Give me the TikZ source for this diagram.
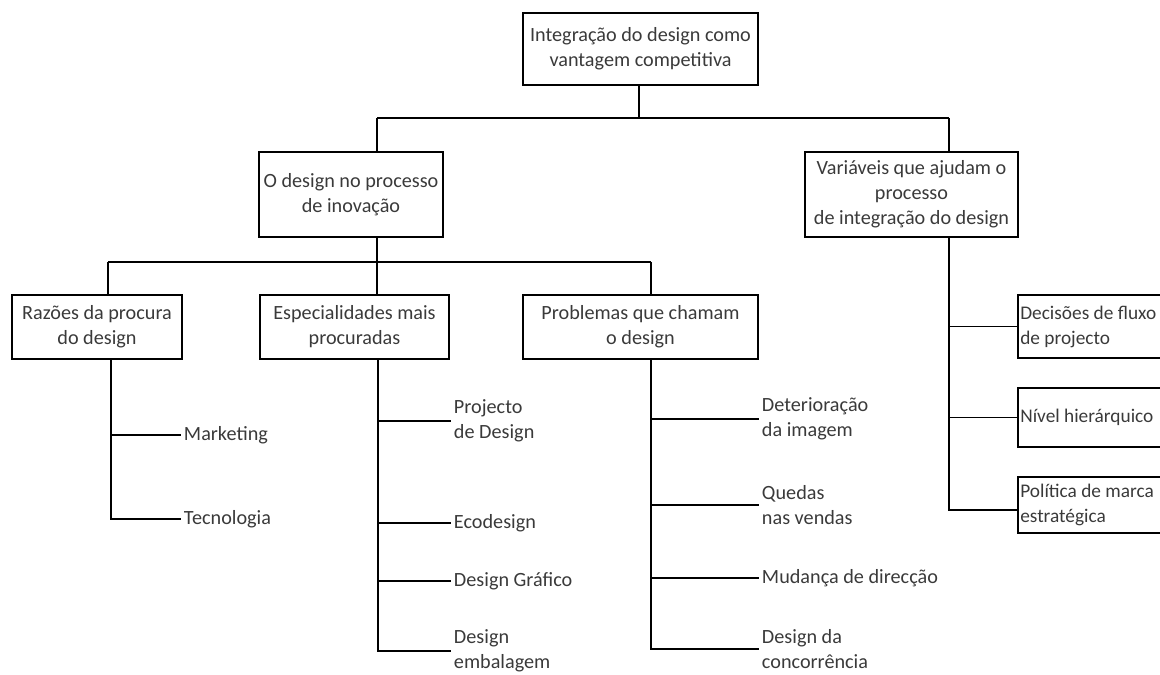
\documentclass[tikz,border=0pt]{standalone}
\usepackage{fontspec}
\setmainfont{Carlito}
\usepackage{xcolor}
\usepackage{tikz}
\usetikzlibrary{positioning}
\definecolor{txtgray}{HTML}{3A3A3A}
\tikzstyle{box} = [rectangle, 
draw=black, 
line width=0.9pt, 
text=txtgray, 
align=center, 
inner sep=0pt, 
font=\fontsize{11.5}{14.2}\selectfont]
\tikzstyle{sidebox} = [box, 
anchor=west, 
align=flush left, 
inner xsep=0.05cm, 
text width=3.8cm, 
font=\fontsize{11}{14.2}\selectfont]
\tikzstyle{leaf} = [text=txtgray, 
align=left, 
anchor=west, 
inner sep=1.5pt, 
font=\fontsize{11.5}{14.2}\selectfont]
\tikzstyle{branch} = [line width=0.9pt]

\begin{document}
\begin{tikzpicture}[x=0.02cm, y=-0.02cm]
\path[use as bounding box, clip] (0,0) rectangle (1160,675);

% boxes
\node (top) [box, minimum width=4.7cm, minimum height=1.44cm] at (640.5,49) {Integração do design como\\vantagem competitiva};
\node (inov) [box, minimum width=3.68cm, minimum height=1.7cm] at (351,194.5) {O design no processo\\de inovação};
\node (vars) [box, minimum width=4.26cm, minimum height=1.7cm] at (911.5,194.5) {Variáveis que ajudam o\\processo\\de integração do design};
\node (razoes) [box, minimum width=3.4cm, minimum height=1.28cm] at (97,327) {Razões da procura\\do design};
\node (espec) [box, minimum width=3.78cm, minimum height=1.28cm] at (354.5,327) {Especialidades mais\\procuradas};
\node (probl) [box, minimum width=4.7cm, minimum height=1.28cm] at (640.5,327) {Problemas que chamam\\o design};
\node (decis) [sidebox, minimum height=1.26cm] at (1017,326.5) {Decisões de fluxo\\de projecto};
\node (nivel) [sidebox, minimum height=1.18cm] at (1017,417.5) {Nível hierárquico};
\node (polit) [sidebox, minimum height=1.12cm] at (1017,505) {Política de marca\\estratégica};

% leaves
\node (mkt) [leaf] at (181,435) {Marketing};
\node (tec) [leaf] at (181,519) {Tecnologia};
\node (proj) [leaf] at (451,421) {Projecto\\de Design};
\node (eco) [leaf] at (451,523) {Ecodesign};
\node (graf) [leaf] at (451,581) {Design Gráfico};
\node (emb) [leaf] at (451,651) {Design\\embalagem};
\node (deter) [leaf] at (759,419) {Deterioração\\da imagem};
\node (quedas) [leaf] at (759,505) {Quedas\\nas vendas};
\node (mud) [leaf] at (759,578) {Mudança de direcção};
\node (conc) [leaf] at (759,649) {Design da\\concorrência};

% junctions
\coordinate (jtop) at (639,118);
\coordinate (jtl) at (377,118);
\coordinate (jtr) at (949,118);
\coordinate (jml) at (108,262);
\coordinate (jmm) at (377,262);
\coordinate (jmr) at (651,262);
\coordinate (jv) at (949,510);

\draw [branch] (top.south -| jtop) -- (jtop);
\draw [branch] (jtl) -- (jtr);
\draw [branch] (jtl) -- (jtl |- inov.north);
\draw [branch] (jtr) -- (jtr |- vars.north);
\draw [branch] (inov.south -| jmm) -- (jmm);
\draw [branch] (jml) -- (jmr);
\draw [branch] (jml) -- (jml |- razoes.north);
\draw [branch] (jmm) -- (jmm |- espec.north);
\draw [branch] (jmr) -- (jmr |- probl.north);

% razoes
\draw [branch] (razoes.south -| 111,0) |- (tec.west);
\draw [branch] (mkt.west -| 111,0) -- (mkt.west);
% especialidades
\draw [branch] (espec.south -| 378,0) |- (emb.west);
\draw [branch] (proj.west -| 378,0) -- (proj.west);
\draw [branch] (eco.west -| 378,0) -- (eco.west);
\draw [branch] (graf.west -| 378,0) -- (graf.west);
% problemas
\draw [branch] (probl.south -| jmr) |- (conc.west);
\draw [branch] (deter.west -| jmr) -- (deter.west);
\draw [branch] (quedas.west -| jmr) -- (quedas.west);
\draw [branch] (mud.west -| jmr) -- (mud.west);
% variaveis
\draw [branch] (vars.south -| jv) -- (jv) -- (jv -| polit.west);
\draw [branch] (decis.west -| jv) -- (decis.west);
\draw [branch] (nivel.west -| jv) -- (nivel.west);

\end{tikzpicture}
\end{document}
